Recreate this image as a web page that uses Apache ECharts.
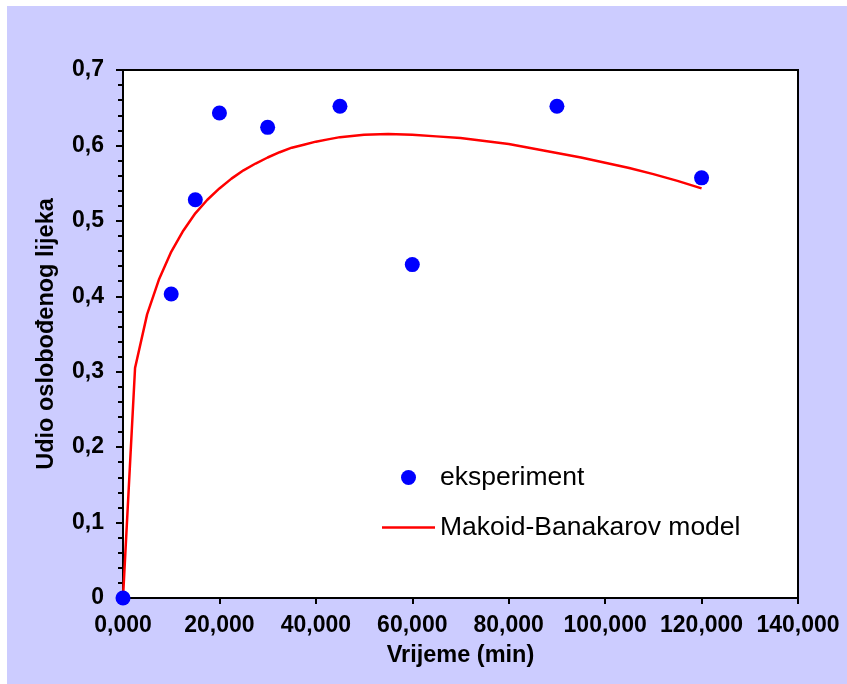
<!DOCTYPE html>
<html>
<head>
<meta charset="utf-8">
<script src="https://cdn.jsdelivr.net/npm/echarts@6/dist/echarts.min.js"></script>
<style>
html,body{margin:0;padding:0;background:#ffffff;}
#bg{position:absolute;left:7px;top:6px;width:840px;height:678px;background:#CCCCFF;}
#chart{position:absolute;left:0;top:0;width:847px;height:684px;}
</style>
</head>
<body>
<div id="bg"></div>
<div id="chart"></div>
<script>
// Experimental data (time in min, released fraction)
const expTime = [0, 10, 15, 20, 30, 45, 60, 90, 120];
const expFrac = [0, 0.403, 0.528, 0.643, 0.624, 0.652, 0.442, 0.652, 0.557];

// Makoid-Banakarov model curve
const modelTime = [0, 2.5, 5, 7.5, 10, 12.5, 15, 17.5, 20, 22.5, 25, 27.5, 30, 32.5, 35, 37.5, 40, 42.5, 45, 50, 55, 60, 65, 70, 75, 80, 85, 90, 95, 100, 105, 110, 115, 120];
const modelFrac = [0, 0.305, 0.376, 0.423, 0.459, 0.487, 0.510, 0.528, 0.543, 0.556, 0.567, 0.576, 0.584, 0.591, 0.597, 0.601, 0.605, 0.608, 0.611, 0.614, 0.615, 0.614, 0.612, 0.610, 0.606, 0.602, 0.596, 0.590, 0.584, 0.577, 0.570, 0.562, 0.553, 0.543];

const seriesNames = ['eksperiment', 'Makoid-Banakarov model'];
const xAxisTitle = 'Vrijeme (min)';
const yAxisTitle = 'Udio oslobođenog lijeka';

const chart = echarts.init(document.getElementById('chart'), null, {renderer: 'canvas'});
const font = 'Arial, "Liberation Sans", sans-serif';

chart.setOption({
  backgroundColor: 'transparent',
  animation: false,
  grid: {
    left: 123, right: 49, top: 70, bottom: 86,
    show: true, backgroundColor: '#ffffff', borderColor: '#000000', borderWidth: 2
  },
  legend: {
    orient: 'vertical',
    left: 382, top: 464,
    itemWidth: 53, itemHeight: 15, itemGap: 23, padding: 0,
    textStyle: {fontFamily: font, fontSize: 26.5, color: '#000000'},
    data: [
      {name: seriesNames[0], icon: 'circle', itemStyle: {color: '#0000FF', opacity: 1}},
      {name: seriesNames[1], icon: 'path://M0,0 L100,0 L100,4.6 L0,4.6 Z', itemStyle: {color: '#FF0000'}}
    ]
  },
  xAxis: {
    type: 'value', min: 0, max: 140, interval: 20,
    name: xAxisTitle, nameLocation: 'middle', nameGap: 46,
    nameTextStyle: {fontFamily: font, fontSize: 23.5, fontWeight: 'bold', color: '#000'},
    axisLine: {show: true, onZero: false, lineStyle: {color: '#000', width: 2}},
    axisTick: {show: true, inside: false, length: 6, lineStyle: {color: '#000', width: 2}},
    axisLabel: {
      fontFamily: font, fontSize: 23, fontWeight: 'bold', color: '#000', margin: 16,
      formatter: v => v.toFixed(3).replace('.', ',')
    },
    splitLine: {show: false}
  },
  yAxis: {
    type: 'value', min: 0, max: 0.7, interval: 0.1,
    name: yAxisTitle, nameLocation: 'middle', nameGap: 64,
    nameTextStyle: {fontFamily: font, fontSize: 23.5, fontWeight: 'bold', color: '#000'},
    axisLine: {show: true, onZero: false, lineStyle: {color: '#000', width: 2}},
    axisTick: {show: true, inside: false, length: 7, lineStyle: {color: '#000', width: 2}},
    minorTick: {show: true, splitNumber: 5, length: 5, lineStyle: {color: '#000', width: 2}},
    axisLabel: {
      fontFamily: font, fontSize: 23, fontWeight: 'bold', color: '#000', margin: 19,
      formatter: v => (v === 0 ? '0' : v.toFixed(1).replace('.', ','))
    },
    splitLine: {show: false},
    minorSplitLine: {show: false}
  },
  series: [
    {
      name: seriesNames[0], type: 'scatter', symbol: 'circle', symbolSize: 15,
      itemStyle: {color: '#0000FF', opacity: 1},
      data: expTime.map((t, i) => [t, expFrac[i]]),
      z: 3
    },
    {
      name: seriesNames[1], type: 'line', symbol: 'none', showSymbol: false,
      smooth: false,
      lineStyle: {color: '#FF0000', width: 2.5},
      itemStyle: {color: '#FF0000'},
      data: modelTime.map((t, i) => [t, modelFrac[i]]),
      z: 2
    }
  ]
});
</script>
</body>
</html>
